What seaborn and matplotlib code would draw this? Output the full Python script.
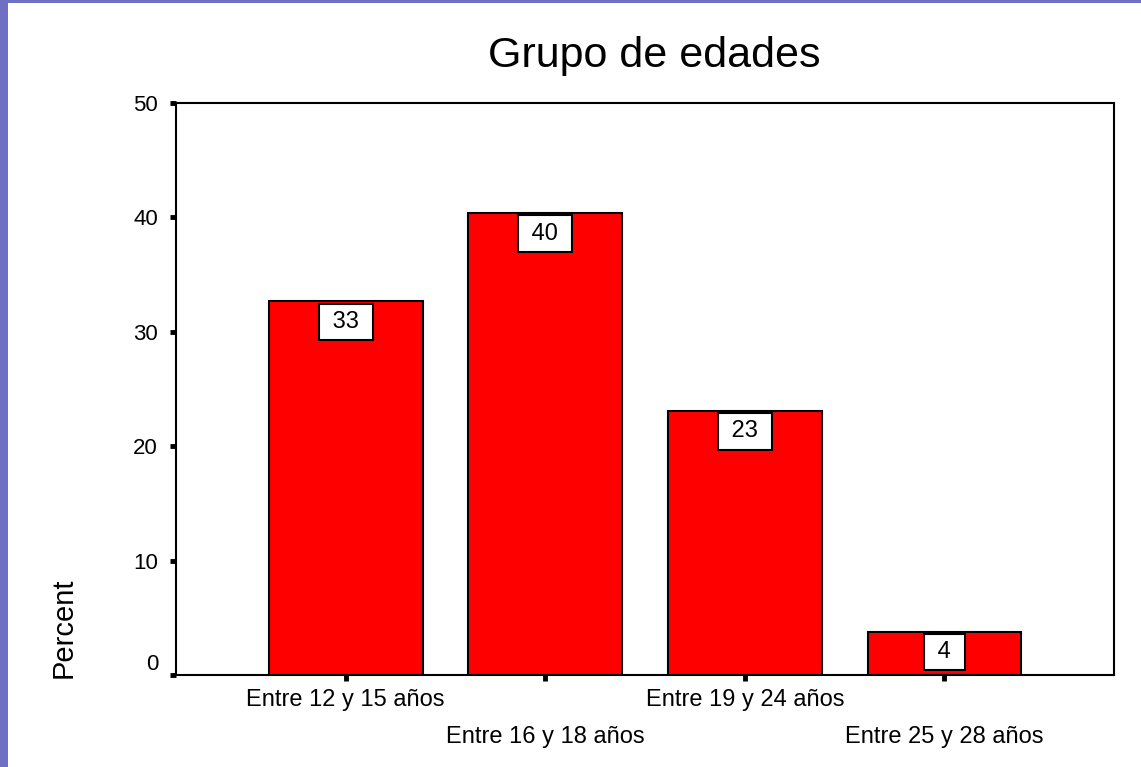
import pandas as pd
import numpy as np
import seaborn as sns
import matplotlib.pyplot as plt
from matplotlib.patches import Rectangle

# datos (porcentaje por grupo de edad)
grupos = ['Entre 12 y 15 años', 'Entre 16 y 18 años', 'Entre 19 y 24 años', 'Entre 25 y 28 años']
porcentaje = [32.7, 40.4, 23.1, 3.8]
yticks = [0, 10, 20, 30, 40, 50]

df = pd.DataFrame({'Grupo': grupos, 'Percent': porcentaje})

sns.set_style('white')
plt.rcParams['font.family'] = ['Liberation Sans', 'DejaVu Sans']
plt.rcParams['text.color'] = 'black'

fig = plt.figure(figsize=(11.41, 7.67), dpi=100)
ax = fig.add_axes([0.1543, 0.1199, 0.822, 0.7458])

sns.barplot(data=df, x='Grupo', y='Percent', color='#ff0000', saturation=1,
            edgecolor='black', linewidth=1.5, width=0.77, ax=ax)

ax.set_xlim(-0.85, 3.85)
ax.set_ylim(0, 50)
ax.set_yticks(yticks)
ax.set_xlabel('')
ax.set_ylabel('')

for s in ax.spines.values():
    s.set_visible(True)
    s.set_color('black')
    s.set_linewidth(1.5)

ax.tick_params(axis='both', direction='out', length=4, width=3.5, color='black',
               labelsize=17, labelcolor='black', bottom=True, left=True)
ax.tick_params(axis='y', pad=9, labelsize=16)
ax.yaxis.get_majorticklabels()[0].set_va('bottom')

# etiquetas del eje x escalonadas
for i, t in enumerate(ax.xaxis.get_major_ticks()):
    t.set_pad(6 if i % 2 == 0 else 33)

# etiquetas de valor dentro de la barra
for i, v in enumerate(porcentaje):
    ax.annotate(' {} '.format(int(round(v))), xy=(i, v), xytext=(0, -7),
                textcoords='offset points', ha='center', va='top', fontsize=17,
                color='black',
                bbox=dict(boxstyle='square,pad=0.3', fc='white', ec='black', lw=1.5))

fig.text(0.573, 0.9126, 'Grupo de edades', ha='center', va='baseline', fontsize=31, color='black')
fig.text(64 / 1141, 1 - 627.5 / 767, 'Percent', rotation=90, ha='center', va='center',
         fontsize=21, color='black')

# marco azul de la diapositiva
fig.patches.append(Rectangle((0, 0), 8 / 1141, 1, transform=fig.transFigure,
                             fc='#6f70c4', ec='none', zorder=0))
fig.patches.append(Rectangle((0, 1 - 3 / 767), 1, 3 / 767, transform=fig.transFigure,
                             fc='#6f70c4', ec='none', zorder=0))

plt.savefig('out.png', dpi=100)
plt.close()
